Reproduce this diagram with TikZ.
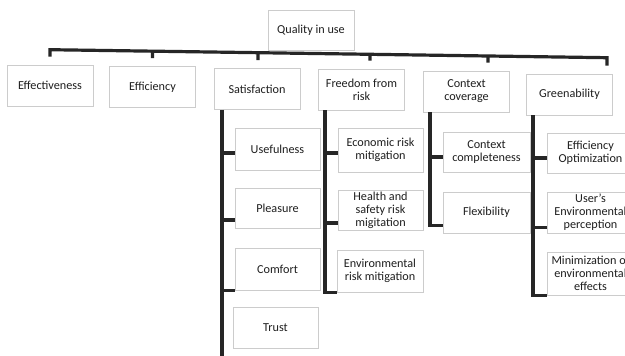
\documentclass[tikz,border=0pt]{standalone}
\usepackage{fontspec}
\setmainfont{Carlito}
\usetikzlibrary{calc}
\begin{document}
\begin{tikzpicture}[x=1pt,y=-1pt,
  box/.style={draw=black!20, line width=0.6pt, fill=white, text=black!88,
    align=center, minimum width=86pt, minimum height=41pt, inner sep=1pt,
    font=\fontsize{12.2}{13}\selectfont},
  conn/.style={draw=black!85, line width=3.2pt, line join=miter, line cap=butt}]
\useasboundingbox (0,0) rectangle (625,356);
\fill[white] (0,0) rectangle (625,356);
% level 0
\node[box, minimum height=40pt] (top) at (311,30) {Quality in use};
% level 1
\node[box] (eff)   at (50,85.5)   {Effectiveness};
\node[box] (effic) at (152.5,87)  {Efficiency};
\node[box] (sat)   at (257,89)    {Satisfaction};
\node[box] (free)  at (361.5,89.5){Freedom from\\risk};
\node[box] (ctx)   at (466.5,91.5){Context\\coverage};
\node[box] (green) at (569.5,94.5){Greenability};
% satisfaction children
\node[box, minimum width=85pt, minimum height=42pt] (use) at (277.5,149) {Usefulness};
\node[box, minimum width=85pt, minimum height=40pt] (ple) at (277.5,208) {Pleasure};
\node[box, minimum width=85pt, minimum height=42pt] (com) at (277.5,269) {Comfort};
\node[box, minimum width=85pt, minimum height=41pt] (tru) at (275.5,327.5) {Trust};
% freedom children
\node[box, minimum width=85pt, minimum height=44pt] (eco) at (380.5,150) {Economic risk\\mitigation};
\node[box, minimum width=85pt, minimum height=40pt] (hea) at (380.5,210) {Health and\\safety risk\\migitation};
\node[box, minimum width=86pt, minimum height=42pt] (env) at (380,271) {Environmental\\risk mitigation};
% context children
\node[box, minimum width=87pt, minimum height=40pt] (cco) at (486.5,152) {Context\\completeness};
\node[box, minimum width=87pt, minimum height=41pt] (fle) at (486.5,212.5) {Flexibility};
% greenability children
\node[box, minimum width=87pt, minimum height=40pt] (eop) at (590.5,153) {Efficiency\\Optimization};
\node[box, minimum width=87pt, minimum height=41pt] (uep) at (590.5,212.5) {User's\\Environmental\\perception};
\node[box, minimum width=87pt, minimum height=43pt] (mie) at (590.5,273.5) {Minimization of\\environmental\\effects};
% top bar
\coordinate (barL) at ([yshift=15pt]eff.north);
\coordinate (barR) at ([xshift=37.5pt,yshift=16pt]green.north);
\draw[conn] ([yshift=8pt]eff.north) -- (barL) -- (barR) -- ([xshift=37.5pt,yshift=8pt]green.north);
\draw[conn] ([yshift=8pt]effic.north) coordinate (t2) -- ($(barL)!(t2)!(barR)$);
\draw[conn] ([xshift=1pt,yshift=8pt]sat.north) coordinate (t3) -- ($(barL)!(t3)!(barR)$);
\draw[conn] ([xshift=8.5pt,yshift=8pt]free.north) coordinate (t4) -- ($(barL)!(t4)!(barR)$);
\draw[conn] ([xshift=21.5pt,yshift=8pt]ctx.north) coordinate (t5) -- ($(barL)!(t5)!(barR)$);
% satisfaction trunk
\draw[conn] ([xshift=-35pt]sat.south) coordinate (s0) -- (s0 |- 0,360);
\draw[conn] ([yshift=-4pt]s0 |- use.west) -- ([yshift=-4pt]use.west);
\draw[conn] ([yshift=-12pt]s0 |- ple.west) -- ([yshift=-12pt]ple.west);
\draw[conn] (s0 |- com.south west) -- (com.south west);
% freedom trunk
\draw[conn] ([xshift=-36.5pt]free.south) coordinate (f0) |- (env.south west);
\draw[conn] ([yshift=-3pt]f0 |- eco.west) -- ([yshift=-3pt]eco.west);
\draw[conn] ([yshift=-13pt]f0 |- hea.west) -- ([yshift=-13pt]hea.west);
% context trunk
\draw[conn] ([xshift=-36.5pt]ctx.south) coordinate (c0) |- ([yshift=-13pt]fle.west);
\draw[conn] ([yshift=-5pt]c0 |- cco.west) -- ([yshift=-5pt]cco.west);
% greenability trunk
\draw[conn] ([xshift=-36.5pt]green.south) coordinate (g0) |- (mie.south west);
\draw[conn] ([yshift=-5pt]g0 |- eop.west) -- ([yshift=-5pt]eop.west);
\draw[conn] ([yshift=-15pt]g0 |- uep.west) -- ([yshift=-15pt]uep.west);
\end{tikzpicture}
\end{document}
